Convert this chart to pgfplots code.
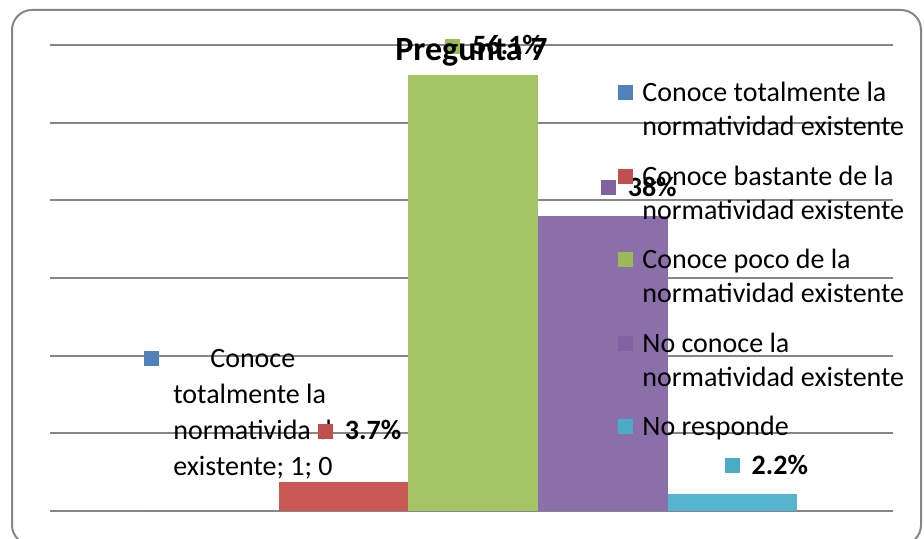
\documentclass[border=0pt]{standalone}
\usepackage{pgfplots}
\pgfplotsset{compat=1.18}
\usepackage{fontspec}
\setmainfont{Carlito}
% bar fills (lighter) and key colours (base)
\definecolor{cblue}{HTML}{5585C0}
\definecolor{cred}{HTML}{CA5855}
\definecolor{cgreen}{HTML}{A5C463}
\definecolor{cpurple}{HTML}{8B6FAB}
\definecolor{ccyan}{HTML}{55B5CF}
\definecolor{kblue}{HTML}{4F81BD}
\definecolor{kred}{HTML}{C0504D}
\definecolor{kgreen}{HTML}{9BBB59}
\definecolor{kpurple}{HTML}{7F63A1}
\definecolor{kcyan}{HTML}{4BACC6}
\definecolor{gridgray}{HTML}{868686}
\newcommand{\sq}[1]{\raisebox{0.5pt}{\textcolor{#1}{\rule{7.5pt}{7.5pt}}}}
\begin{document}
\begin{tikzpicture}
\path[use as bounding box] (-25pt,-14pt) rectangle (437pt,255.5pt);
\draw[gridgray, line width=1pt, rounded corners=10pt] (-19pt,-17pt) rectangle (435.5pt,250.5pt);
\begin{axis}[
 scale only axis, width=421.5pt, height=233pt,
 xmin=0, xmax=6.505, ymin=0, ymax=60,
 ytick={0,10,...,60}, yticklabels={}, xtick=\empty,
 ymajorgrids, grid style={draw=gridgray, line width=1pt},
 axis line style={draw=none}, major tick style={draw=none},
 ybar, bar width=1, bar shift=0pt,
 title={Pregunta 7},
 title style={at={(0.5,1)}, anchor=center, yshift=-9.5pt, font=\bfseries\fontsize{17}{20}\selectfont},
 legend style={draw=none, fill=none, inner sep=0pt, at={(0.6738,0.9298)}, anchor=north west,
   font=\fontsize{14}{17}\selectfont, nodes={inner sep=0pt, align=left, text depth=},
   row sep=7.75pt, column sep=4.5pt},
 legend cell align=left,
 legend image code/.code={\fill[#1] (0pt,5.85pt) rectangle (7.5pt,13.35pt);},
 every node near coord/.append style={anchor=center, font=\bfseries\fontsize{14}{17}\selectfont, inner sep=0pt},
]
\addplot[fill=cblue, draw=none, legend image post style={fill=kblue},
 nodes near coords={\llap{\sq{kblue}\hspace{7pt}}\hspace{18.5pt}\mdseries Conoce\\\mdseries totalmente la\\\mdseries normativida d\\\mdseries existente; 1; 0},
 every node near coord/.append style={align=left, font=\fontsize{14}{18}\selectfont, xshift=19.5pt, yshift=48.5pt}]
 coordinates {(1.265,0)};
\addlegendentry{\strut Conoce totalmente la\\\strut normatividad existente}
\addplot[fill=cred, draw=none, legend image post style={fill=kred},
 nodes near coords={\sq{kred}\hspace{6pt}3.7\%},
 every node near coord/.append style={xshift=8pt, yshift=26pt}]
 coordinates {(2.265,3.7)};
\addlegendentry{\strut Conoce bastante de la\\\strut normatividad existente}
\addplot[fill=cgreen, draw=none, legend image post style={fill=kgreen},
 nodes near coords={\sq{kgreen}\hspace{6pt}56.1\%},
 every node near coord/.append style={xshift=10.5pt, yshift=15pt}]
 coordinates {(3.265,56.1)};
\addlegendentry{\strut Conoce poco de la\\\strut normatividad existente}
\addplot[fill=cpurple, draw=none, legend image post style={fill=kpurple},
 nodes near coords={\sq{kpurple}\hspace{6pt}38\%},
 every node near coord/.append style={xshift=18pt, yshift=14.5pt}]
 coordinates {(4.265,38)};
\addlegendentry{\strut No conoce la\\\strut normatividad existente}
\addplot[fill=ccyan, draw=none, legend image post style={fill=kcyan},
 nodes near coords={\sq{kcyan}\hspace{6pt}2.2\%},
 every node near coord/.append style={xshift=17pt, yshift=14.5pt}]
 coordinates {(5.265,2.2)};
\addlegendentry{\strut No responde\\\strut}
\end{axis}
\end{tikzpicture}
\end{document}
